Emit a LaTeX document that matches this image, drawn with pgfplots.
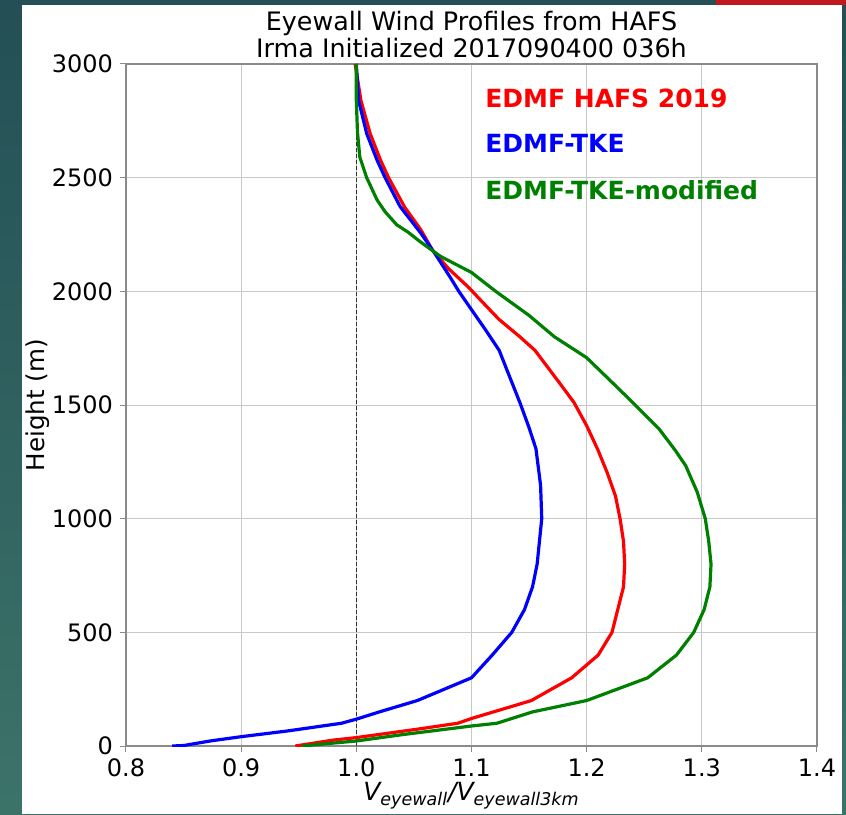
\documentclass[border=0pt]{standalone}
\usepackage{fontspec}
\setmainfont{DejaVu Sans}
\usepackage{pgfplots}
\pgfplotsset{compat=1.18}
\usetikzlibrary{backgrounds}
\definecolor{mplgreen}{HTML}{008000}
\definecolor{gridgrey}{HTML}{C8C8C8}
\definecolor{spinegrey}{HTML}{8A8A8A}
\definecolor{tealtop}{HTML}{234F55}
\definecolor{tealbot}{HTML}{3C7369}
\definecolor{slidered}{HTML}{C0181E}

% height (m), V/V3km
\pgfplotstableread{
h v
0 0.947
26 0.980
37 1.000
74 1.053
100 1.088
121 1.100
200 1.152
300 1.187
400 1.210
500 1.222
600 1.227
700 1.232
800 1.233
900 1.232
1000 1.229
1100 1.225
1200 1.218
1300 1.210
1409 1.200
1511 1.189
1600 1.176
1741 1.155
1800 1.142
1876 1.124
1950 1.110
2015 1.098
2100 1.080
2182 1.066
2271 1.056
2370 1.042
2500 1.028
2577 1.021
2694 1.012
2839 1.004
3000 0.999
}\hafs

\pgfplotstableread{
h v
0 0.840
2 0.850
22 0.873
41 0.900
66 0.940
100 0.987
118 1.000
150 1.020
200 1.053
300 1.100
400 1.118
500 1.135
600 1.146
700 1.153
800 1.157
900 1.159
1000 1.161
1146 1.160
1307 1.156
1400 1.150
1511 1.142
1600 1.135
1741 1.124
1832 1.112
1934 1.098
2000 1.089
2066 1.081
2168 1.068
2256 1.056
2373 1.038
2500 1.025
2577 1.018
2694 1.009
2839 1.002
3000 1.000
}\tke

\pgfplotstableread{
h v
0 0.953
5 0.963
22 1.000
50 1.040
88 1.100
100 1.122
150 1.153
200 1.200
300 1.253
400 1.278
500 1.293
600 1.302
700 1.307
800 1.308
900 1.306
1000 1.303
1117 1.296
1233 1.286
1300 1.277
1394 1.263
1511 1.240
1600 1.222
1708 1.200
1741 1.190
1800 1.172
1894 1.150
2000 1.121
2083 1.100
2154 1.073
2220 1.055
2260 1.045
2293 1.035
2350 1.025
2402 1.018
2500 1.009
2591 1.003
2700 1.001
2839 1.000
3000 1.000
}\tkemod

\begin{document}
\begin{tikzpicture}
\useasboundingbox (-63pt,-34pt) rectangle (360pt,373pt);
\begin{axis}[
  scale only axis, width=345.5pt, height=341pt,
  xmin=0.8, xmax=1.4, ymin=0, ymax=3000,
  xtick={0.8,0.9,...,1.41}, ytick={0,500,...,3000},
  /pgf/number format/assume math mode=true,
  /pgf/number format/1000 sep={},
  xticklabel style={/pgf/number format/.cd, fixed, fixed zerofill, precision=1},
  ticklabel style={font=\fontsize{12}{14}\selectfont},
  tick align=outside, tick pos=left,
  major tick length=3pt, tick style={spinegrey, line width=0.5pt},
  axis line style={spinegrey, line width=0.6pt},
  grid=major, grid style={gridgrey, line width=0.4pt},
  title={Eyewall Wind Profiles from HAFS\\Irma Initialized 2017090400 036h},
  title style={align=center, font=\fontsize{12.7}{13.5}\selectfont, at={(axis description cs:0.5,1)}, anchor=south, yshift=-6.5pt},
  xlabel={\itshape V\textsubscript{eyewall}/V\textsubscript{eyewall3km}},
  xlabel style={font=\fontsize{12.5}{14}\selectfont, at={(axis description cs:0.5,-0.0792)}, anchor=base},
  ylabel={Height (m)},
  ylabel style={font=\fontsize{12.3}{14}\selectfont, at={(axis description cs:-0.1274,0.5)}, anchor=center, rotate=0},
]
\addplot[black!80, dash pattern=on 2pt off 1pt, line width=0.7pt] coordinates {(1,0) (1,3000)};
\addplot[red, line width=1.6pt] table[x=v, y=h] {\hafs};
\addplot[blue, line width=1.6pt] table[x=v, y=h] {\tke};
\addplot[mplgreen, line width=1.6pt] table[x=v, y=h] {\tkemod};
\node[red, anchor=base west, inner sep=0pt, font=\fontsize{12.5}{14}\selectfont\bfseries] at (axis description cs:0.5195,0.9355) {EDMF HAFS 2019};
\node[blue, anchor=base west, inner sep=0pt, font=\fontsize{12.5}{14}\selectfont\bfseries] at (axis description cs:0.5195,0.8695) {EDMF-TKE};
\node[mplgreen, anchor=base west, inner sep=0pt, font=\fontsize{12.5}{14}\selectfont\bfseries] at (axis description cs:0.5195,0.8006) {EDMF-TKE-modified};
\end{axis}
\begin{scope}[on background layer]
  \shade[top color=tealtop, bottom color=tealbot] (-63pt,-34pt) rectangle (360pt,373pt);
  \fill[white] (-52pt,-34pt) rectangle (358pt,370.5pt);
  \fill[slidered] (295pt,370.5pt) rectangle (360pt,373pt);
\end{scope}
\end{tikzpicture}
\end{document}
